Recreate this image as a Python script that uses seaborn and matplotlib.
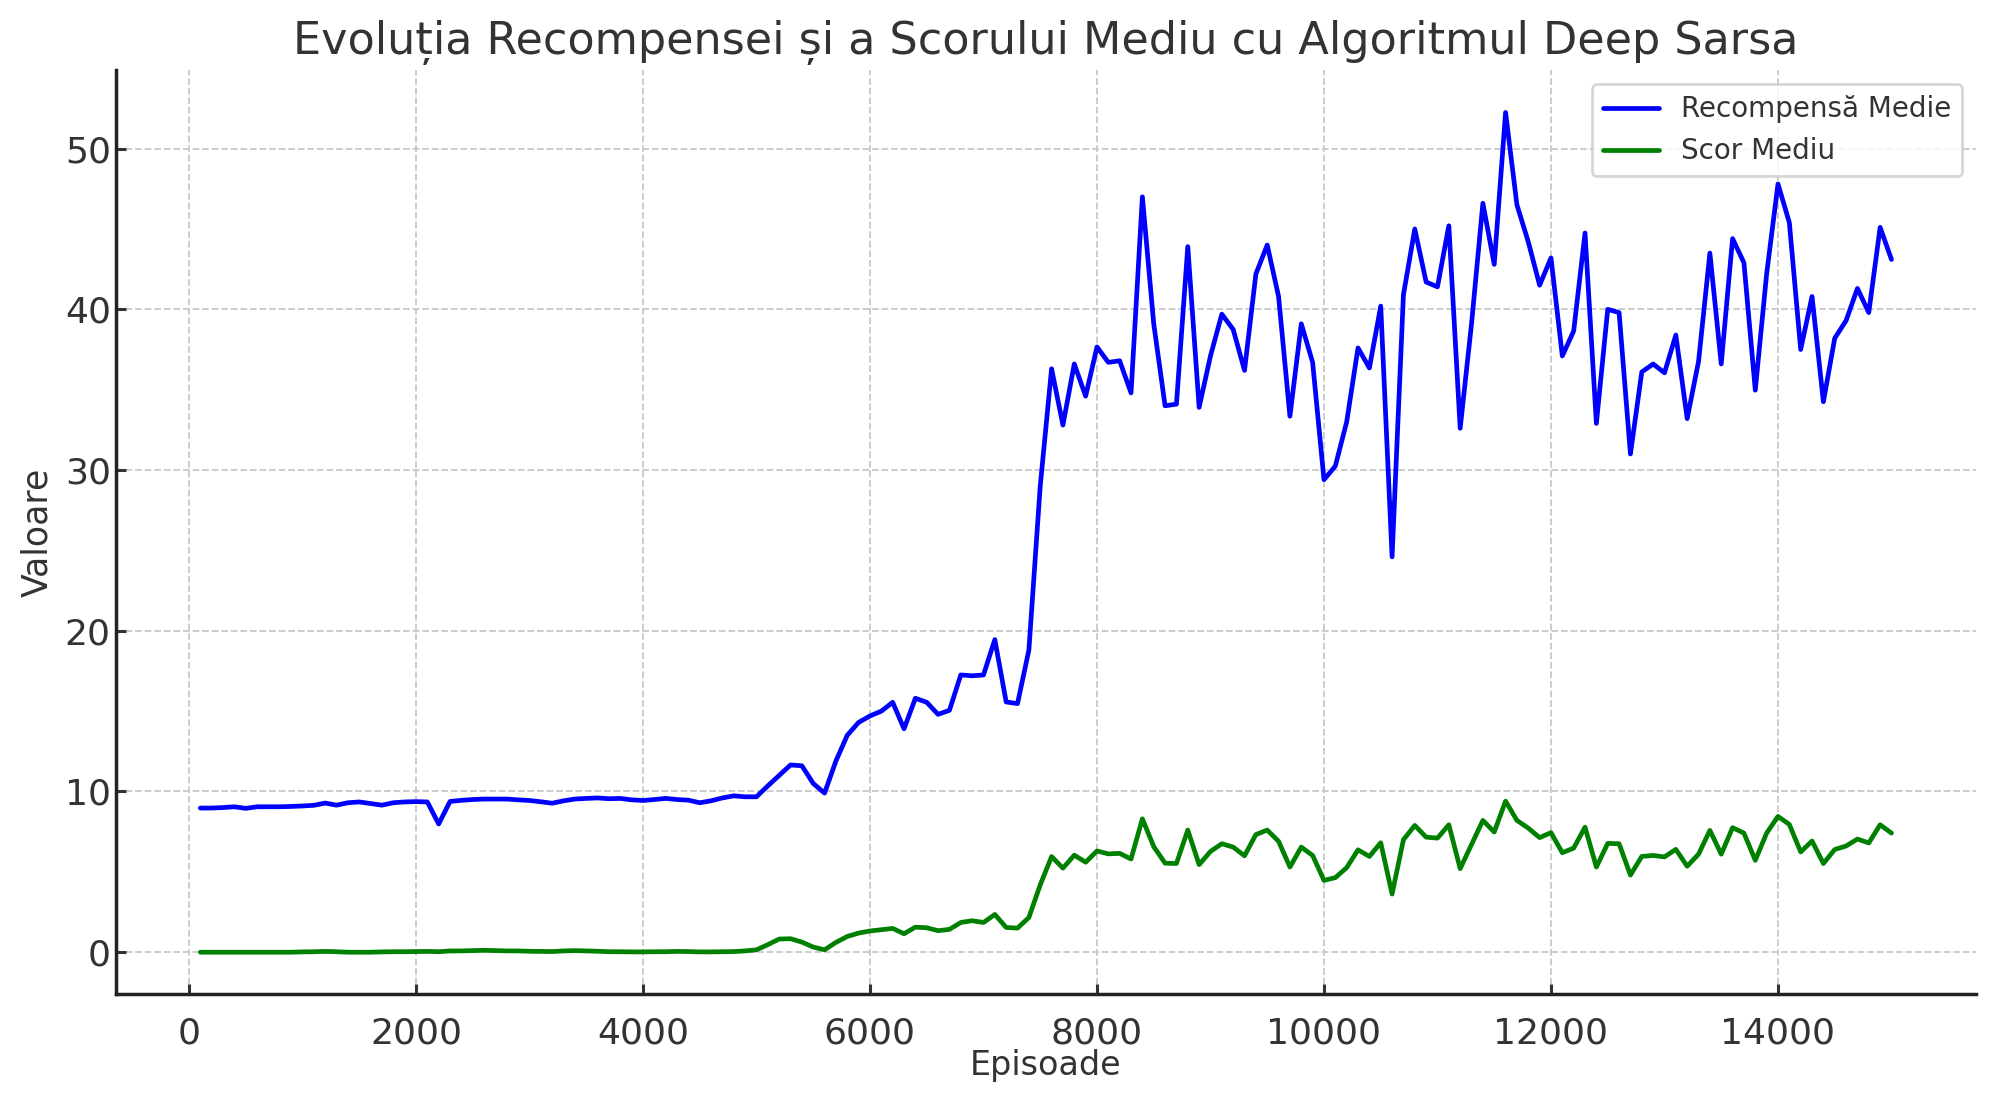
import matplotlib
matplotlib.use("Agg")
import matplotlib.pyplot as plt
import seaborn as sns
import pandas as pd
import numpy as np

# episodes logged every 100 steps
episodes = np.arange(100, 15001, 100)

recompensa = [
    8.97, 8.97, 9.0, 9.05, 8.95, 9.05, 9.05, 9.05, 9.07, 9.1,
    9.14, 9.28, 9.15, 9.3, 9.35, 9.25, 9.15, 9.3, 9.35, 9.37,
    9.35, 7.98, 9.38, 9.45, 9.5, 9.53, 9.53, 9.53, 9.48, 9.44,
    9.36, 9.27, 9.42, 9.53, 9.57, 9.6, 9.55, 9.57, 9.48, 9.44,
    9.5, 9.57, 9.5, 9.46, 9.3, 9.42, 9.6, 9.73, 9.67, 9.67,
    10.35, 11.0, 11.65, 11.6, 10.5, 9.9, 11.9, 13.5, 14.3, 14.7,
    15.0, 15.55, 13.9, 15.8, 15.55, 14.8, 15.05, 17.25, 17.2, 17.25,
    19.45, 15.57, 15.47, 18.8, 29.0, 36.3, 32.8, 36.6, 34.6, 37.66,
    36.7, 36.8, 34.8, 47.0, 39.1, 34.0, 34.1, 43.9, 33.9, 37.1,
    39.7, 38.75, 36.2, 42.2, 44.0, 40.8, 33.35, 39.1, 36.7, 29.4,
    30.25, 33.0, 37.6, 36.35, 40.2, 24.6, 40.9, 45.0, 41.7, 41.4,
    45.2, 32.6, 39.1, 46.6, 42.8, 52.25, 46.5, 44.2, 41.5, 43.2,
    37.1, 38.65, 44.75, 32.9, 40.0, 39.8, 31.0, 36.1, 36.6, 36.05,
    38.4, 33.2, 36.75, 43.5, 36.6, 44.4, 42.9, 34.97, 42.2, 47.8,
    45.4, 37.5, 40.8, 34.25, 38.2, 39.3, 41.3, 39.8, 45.1, 43.1,
]

scor = [
    0.0, 0.0, 0.0, 0.0, 0.0, 0.0, 0.0, 0.0, 0.0, 0.02,
    0.03, 0.05, 0.03, 0.0, 0.0, 0.0, 0.02, 0.03, 0.03, 0.04,
    0.05, 0.03, 0.08, 0.08, 0.1, 0.12, 0.1, 0.08, 0.08, 0.06,
    0.05, 0.04, 0.08, 0.1, 0.08, 0.06, 0.03, 0.03, 0.02, 0.02,
    0.03, 0.03, 0.05, 0.04, 0.02, 0.02, 0.03, 0.04, 0.08, 0.15,
    0.47, 0.82, 0.84, 0.63, 0.32, 0.15, 0.61, 0.98, 1.19, 1.32,
    1.4, 1.48, 1.15, 1.56, 1.52, 1.34, 1.42, 1.85, 1.96, 1.85,
    2.35, 1.54, 1.5, 2.16, 4.19, 5.95, 5.23, 6.04, 5.6, 6.3,
    6.12, 6.15, 5.8, 8.3, 6.57, 5.54, 5.52, 7.6, 5.45, 6.27,
    6.75, 6.54, 6.0, 7.32, 7.6, 6.9, 5.3, 6.54, 6.02, 4.47,
    4.64, 5.26, 6.37, 5.96, 6.81, 3.62, 7.0, 7.89, 7.16, 7.1,
    7.93, 5.2, 6.7, 8.2, 7.48, 9.4, 8.2, 7.72, 7.13, 7.44,
    6.19, 6.48, 7.78, 5.3, 6.77, 6.75, 4.8, 5.96, 6.02, 5.93,
    6.4, 5.35, 6.1, 7.58, 6.1, 7.75, 7.41, 5.72, 7.41, 8.45,
    7.95, 6.24, 6.92, 5.52, 6.39, 6.61, 7.04, 6.8, 7.93, 7.41,
]

df = pd.DataFrame({
    "Episoade": np.concatenate([episodes, episodes]),
    "Valoare": recompensa + scor,
    "Serie": ["Recompensă Medie"] * len(episodes) + ["Scor Mediu"] * len(episodes),
})

sns.set_style("ticks")
plt.rcParams["font.family"] = ["DejaVu Sans"]
text_col = "#333333"

fig = plt.figure(figsize=(9.98, 5.505), dpi=200)
ax = fig.add_axes([0.058, 0.097, 0.932, 0.839])

sns.lineplot(data=df, x="Episoade", y="Valoare", hue="Serie",
             palette={"Recompensă Medie": "blue", "Scor Mediu": "green"},
             linewidth=1.7, ax=ax)

ax.grid(True, linestyle="--", linewidth=0.65, color="#c8c8c8")
ax.set_axisbelow(True)
sns.despine(ax=ax)
for side in ["left", "bottom"]:
    ax.spines[side].set_linewidth(1.25)
    ax.spines[side].set_color("#222222")

ax.set_title("Evoluția Recompensei și a Scorului Mediu cu Algoritmul Deep Sarsa",
             fontsize=16, color=text_col)
ax.tick_params(labelsize=13, colors=text_col, direction="in", length=3.5, width=1.1)
ax.tick_params(axis="y", pad=1.8)
ax.tick_params(axis="x", pad=8)
ax.set_xlabel("Episoade", fontsize=12, color=text_col, labelpad=-0.5)
ax.set_ylabel("Valoare", fontsize=12.5, color=text_col, labelpad=3.8)

leg = ax.legend(loc="upper right", fontsize=10, frameon=True, fancybox=True)
leg.get_frame().set_edgecolor("#cccccc")
for t in leg.get_texts():
    t.set_color(text_col)

fig.savefig("out.png", dpi=200)
